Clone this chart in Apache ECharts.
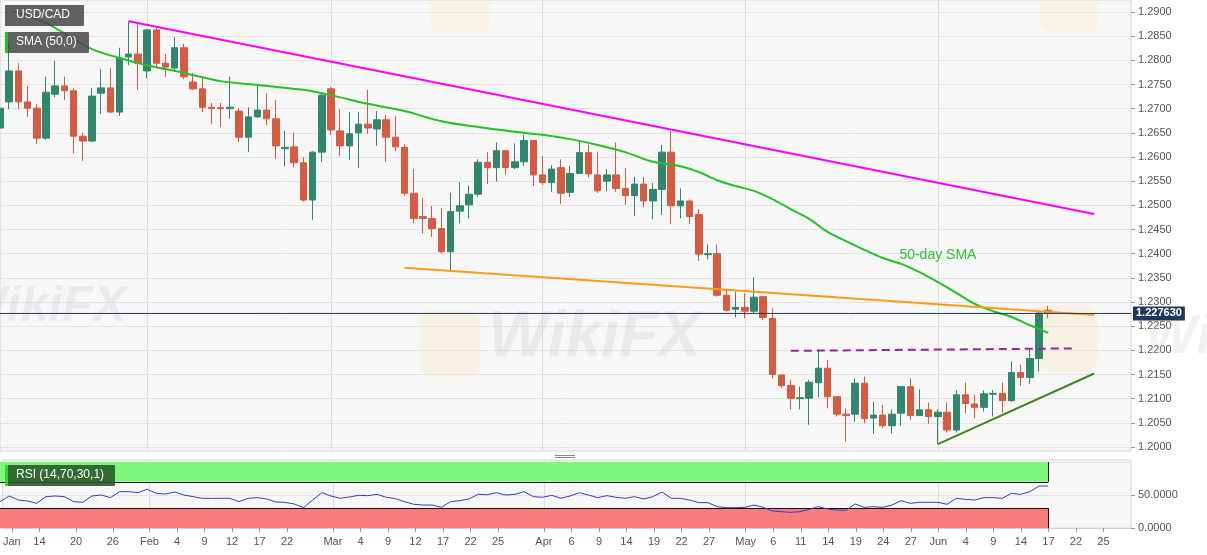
<!DOCTYPE html>
<html><head><meta charset="utf-8">
<script src="https://cdn.jsdelivr.net/npm/echarts@6/dist/echarts.min.js"></script>
<style>html,body{margin:0;padding:0;background:#fff}#c{width:1207px;height:555px}</style>
</head><body><div id="c"></div><script>
// ---- categories (trading days) ----
const dates = [
'2021-01-08','2021-01-11','2021-01-12','2021-01-13','2021-01-14','2021-01-15','2021-01-18','2021-01-19','2021-01-20','2021-01-21','2021-01-22','2021-01-25','2021-01-26','2021-01-27','2021-01-28','2021-01-29',
'2021-02-01','2021-02-02','2021-02-03','2021-02-04','2021-02-05','2021-02-08','2021-02-09','2021-02-10','2021-02-11','2021-02-12','2021-02-15','2021-02-16','2021-02-17','2021-02-18','2021-02-19','2021-02-22','2021-02-23','2021-02-24','2021-02-25','2021-02-26',
'2021-03-01','2021-03-02','2021-03-03','2021-03-04','2021-03-05','2021-03-08','2021-03-09','2021-03-10','2021-03-11','2021-03-12','2021-03-15','2021-03-16','2021-03-17','2021-03-18','2021-03-19','2021-03-22','2021-03-23','2021-03-24','2021-03-25','2021-03-26','2021-03-29','2021-03-30','2021-03-31',
'2021-04-01','2021-04-02','2021-04-05','2021-04-06','2021-04-07','2021-04-08','2021-04-09','2021-04-12','2021-04-13','2021-04-14','2021-04-15','2021-04-16','2021-04-19','2021-04-20','2021-04-21','2021-04-22','2021-04-23','2021-04-26','2021-04-27','2021-04-28','2021-04-29','2021-04-30',
'2021-05-03','2021-05-04','2021-05-05','2021-05-06','2021-05-07','2021-05-10','2021-05-11','2021-05-12','2021-05-13','2021-05-14','2021-05-17','2021-05-18','2021-05-19','2021-05-20','2021-05-21','2021-05-24','2021-05-25','2021-05-26','2021-05-27','2021-05-28','2021-05-31',
'2021-06-01','2021-06-02','2021-06-03','2021-06-04','2021-06-07','2021-06-08','2021-06-09','2021-06-10','2021-06-11','2021-06-14','2021-06-15','2021-06-16','2021-06-17','2021-06-18','2021-06-21','2021-06-22','2021-06-23','2021-06-24','2021-06-25','2021-06-28','2021-06-29','2021-06-30'
];

// ---- USD/CAD daily candles: [open, close, low, high] ----
const candles = [
[1.2660,1.2701,1.2650,1.2712],[1.2714,1.2778,1.2699,1.2836],[1.2778,1.2714,1.2699,1.2794],[1.2714,1.2701,1.2683,1.2747],[1.2701,1.2639,1.2627,1.2710],
[1.2639,1.2734,1.2635,1.2766],[1.2730,1.2747,1.2724,1.2799],[1.2747,1.2737,1.2718,1.2766],[1.2737,1.2643,1.2608,1.2743],[1.2643,1.2633,1.2592,1.2650],
[1.2633,1.2726,1.2631,1.2743],[1.2732,1.2743,1.2689,1.2782],[1.2743,1.2693,1.2691,1.2784],[1.2693,1.2805,1.2685,1.2826],[1.2807,1.2813,1.2790,1.2881],
[1.2813,1.2794,1.2739,1.2877],[1.2778,1.2863,1.2763,1.2865],[1.2863,1.2794,1.2784,1.2867],[1.2794,1.2786,1.2766,1.2813],[1.2784,1.2826,1.2776,1.2848],
[1.2826,1.2766,1.2761,1.2834],[1.2755,1.2741,1.2739,1.2774],[1.2741,1.2703,1.2693,1.2763],[1.2703,1.2700,1.2668,1.2712],[1.2702,1.2700,1.2662,1.2712],
[1.2700,1.2703,1.2679,1.2766],[1.2695,1.2641,1.2631,1.2701],[1.2641,1.2683,1.2610,1.2703],[1.2683,1.2697,1.2681,1.2749],[1.2697,1.2679,1.2666,1.2732],
[1.2679,1.2623,1.2596,1.2718],[1.2617,1.2620,1.2581,1.2654],[1.2621,1.2588,1.2579,1.2650],[1.2588,1.2511,1.2508,1.2600],[1.2511,1.2610,1.2470,1.2612],
[1.2610,1.2728,1.2590,1.2732],[1.2741,1.2656,1.2646,1.2745],[1.2654,1.2623,1.2602,1.2699],[1.2623,1.2648,1.2594,1.2693],[1.2650,1.2668,1.2577,1.2693],
[1.2668,1.2660,1.2648,1.2739],[1.2658,1.2677,1.2623,1.2695],[1.2677,1.2641,1.2590,1.2687],[1.2641,1.2621,1.2612,1.2685],[1.2620,1.2525,1.2520,1.2626],
[1.2525,1.2473,1.2463,1.2575],[1.2477,1.2473,1.2442,1.2515],[1.2473,1.2452,1.2435,1.2499],[1.2452,1.2404,1.2400,1.2494],[1.2404,1.2487,1.2365,1.2526],
[1.2488,1.2499,1.2463,1.2548],[1.2501,1.2523,1.2473,1.2541],[1.2523,1.2589,1.2518,1.2595],[1.2589,1.2578,1.2544,1.2610],[1.2578,1.2613,1.2549,1.2630],
[1.2613,1.2578,1.2563,1.2614],[1.2578,1.2590,1.2575,1.2628],[1.2590,1.2634,1.2581,1.2646],[1.2634,1.2563,1.2540,1.2635],[1.2563,1.2547,1.2542,1.2602],
[1.2547,1.2575,1.2528,1.2583],[1.2578,1.2525,1.2503,1.2595],[1.2527,1.2566,1.2517,1.2582],[1.2566,1.2609,1.2565,1.2634],[1.2609,1.2565,1.2558,1.2625],
[1.2563,1.2530,1.2526,1.2611],[1.2550,1.2563,1.2530,1.2575],[1.2563,1.2535,1.2528,1.2630],[1.2535,1.2520,1.2501,1.2577],[1.2520,1.2544,1.2478,1.2559],
[1.2544,1.2509,1.2496,1.2559],[1.2509,1.2533,1.2471,1.2546],[1.2533,1.2610,1.2480,1.2625],[1.2610,1.2499,1.2461,1.2654],[1.2499,1.2509,1.2473,1.2535],
[1.2509,1.2477,1.2461,1.2512],[1.2481,1.2399,1.2385,1.2492],[1.2398,1.2400,1.2388,1.2419],[1.2400,1.2314,1.2311,1.2419],[1.2314,1.2283,1.2280,1.2325],
[1.2285,1.2289,1.2268,1.2321],[1.2289,1.2281,1.2266,1.2318],[1.2281,1.2310,1.2277,1.2351],[1.2311,1.2268,1.2263,1.2312],[1.2266,1.2150,1.2142,1.2287],
[1.2149,1.2127,1.2122,1.2150],[1.2127,1.2101,1.2078,1.2139],[1.2100,1.2102,1.2078,1.2125],[1.2101,1.2134,1.2046,1.2139],[1.2133,1.2163,1.2103,1.2202],
[1.2163,1.2104,1.2080,1.2180],[1.2104,1.2068,1.2063,1.2105],[1.2068,1.2065,1.2011,1.2080],[1.2068,1.2132,1.2052,1.2142],[1.2132,1.2059,1.2049,1.2146],
[1.2060,1.2066,1.2027,1.2094],[1.2066,1.2044,1.2039,1.2087],[1.2044,1.2068,1.2028,1.2078],[1.2070,1.2125,1.2044,1.2126],[1.2125,1.2065,1.2056,1.2142],
[1.2065,1.2077,1.2064,1.2119],[1.2077,1.2063,1.2048,1.2092],[1.2063,1.2072,1.2006,1.2078],[1.2072,1.2035,1.2030,1.2092],[1.2035,1.2108,1.2030,1.2118],
[1.2108,1.2090,1.2070,1.2133],[1.2089,1.2082,1.2059,1.2108],[1.2082,1.2110,1.2073,1.2117],[1.2109,1.2111,1.2063,1.2118],[1.2111,1.2096,1.2071,1.2133],
[1.2096,1.2154,1.2093,1.2177],[1.2154,1.2144,1.2127,1.2170],[1.2144,1.2183,1.2130,1.2202],[1.2183,1.2277,1.2156,1.2280],[1.2283,1.22763,1.2266,1.2292]
];

// ---- RSI(14) values ----
const rsiValues = [
39.8,48.5,42.4,40.9,37.4,47.5,48.5,47.5,39.9,38.9,48.5,50.0,46.0,55.0,55.0,53.5,58.6,52.5,51.5,54.5,
50.0,47.5,45.0,44.9,45.0,45.0,39.9,45.0,46.0,44.0,39.4,38.9,36.4,30.8,42.4,53.5,48.5,45.0,47.0,49.5,
49.0,51.0,46.5,44.4,39.9,35.9,34.8,34.8,31.3,39.9,41.4,43.9,51.0,50.5,53.5,50.0,51.0,55.0,47.5,46.5,
49.5,45.0,48.5,53.5,50.0,46.0,49.0,46.5,45.0,47.5,44.0,47.5,54.5,45.0,45.0,42.4,38.4,38.4,32.3,30.8,
30.8,31.3,34.8,31.3,25.8,24.7,23.7,24.7,28.3,32.3,28.8,27.3,26.8,36.4,31.3,32.3,31.3,34.8,41.4,37.4,
38.9,38.9,38.9,35.9,45.0,43.4,42.4,46.0,46.0,45.0,52.5,51.0,55.0,63.6,63.6
];

// ---- 50-day SMA ----
const smaPoints = [
['2021-01-08',1.2910],['2021-01-15',1.2877],['2021-01-22',1.2823],['2021-01-27',1.2805],['2021-02-01',1.2790],
['2021-02-05',1.2774],['2021-02-11',1.2757],['2021-02-17',1.2749],['2021-02-24',1.2739],['2021-03-01',1.2728],
['2021-03-05',1.2710],['2021-03-11',1.2695],['2021-03-17',1.2674],['2021-03-23',1.2662],['2021-03-29',1.2652],
['2021-04-01',1.2646],['2021-04-06',1.2637],['2021-04-09',1.2625],['2021-04-14',1.2610],['2021-04-19',1.2590],
['2021-04-22',1.2581],['2021-04-26',1.2569],['2021-04-28',1.2552],['2021-04-30',1.2540],['2021-05-04',1.2530],
['2021-05-06',1.2513],['2021-05-10',1.2492],['2021-05-12',1.2472],['2021-05-14',1.2445],['2021-05-18',1.2426],
['2021-05-20',1.2408],['2021-05-24',1.2391],['2021-05-26',1.2379],['2021-05-28',1.2362],['2021-06-01',1.2341],
['2021-06-03',1.2319],['2021-06-07',1.2296],['2021-06-09',1.2281],['2021-06-11',1.2269],['2021-06-15',1.2252],
['2021-06-17',1.2236]
];

// ---- drawn trend lines ----
const resistanceLine = [['2021-01-28',1.2881],['2021-06-24',1.2482]];
const fallingSupport = [['2021-03-11',1.2371],['2021-06-24',1.2273]];
const horizontalLevel = [['2021-05-10',1.2199],['2021-06-22',1.2204]];
const risingSupport = [['2021-06-01',1.2006],['2021-06-24',1.2152]];
const smaLabelAt = ['2021-06-01',1.2397];
const lastPrice = 1.227630;

// ---- axis ticks ----
const tickDates = ['2021-01-11','2021-01-14','2021-01-20','2021-01-26','2021-02-01','2021-02-04','2021-02-09','2021-02-12','2021-02-17','2021-02-22',
'2021-03-01','2021-03-04','2021-03-09','2021-03-12','2021-03-17','2021-03-22','2021-03-25','2021-04-01','2021-04-06','2021-04-09','2021-04-14','2021-04-19','2021-04-22','2021-04-27',
'2021-05-03','2021-05-06','2021-05-11','2021-05-14','2021-05-19','2021-05-24','2021-05-27','2021-06-01','2021-06-04','2021-06-09','2021-06-14','2021-06-17','2021-06-22','2021-06-25'];
const tickTexts = ['Jan','14','20','26','Feb','4','9','12','17','22',
'Mar','4','9','12','17','22','25','Apr','6','9','14','19','22','27',
'May','6','11','14','19','24','27','Jun','4','9','14','17','22','25'];
const monthStarts = ['2021-02-01','2021-03-01','2021-04-01','2021-05-03','2021-06-01'];
const priceMin = 1.20, priceMax = 1.29, priceStep = 0.005;
const rsiMin = 0, rsiMax = 100, rsiStep = 50;
const rsiUpper = 70, rsiLower = 30;

const tickMap = {};
tickDates.forEach((d, i) => { tickMap[d] = tickTexts[i]; });
const monthSet = new Set(monthStarts);
const lastDate = dates[candles.length - 1];
const FONT = 'Arial';

const chart = echarts.init(document.getElementById('c'), null, {renderer: 'canvas'});
const gridLine = '#e3e3e3';
const upColor = '#30876e', downColor = '#d75a41';

const trend = (data, color, type) => ({
  type: 'line', xAxisIndex: 1, yAxisIndex: 1, data, symbol: 'none', silent: true,
  lineStyle: {color, width: 2, type: type || 'solid'}, z: 4
});

chart.setOption({
  animation: false,
  backgroundColor: '#ffffff',
  grid: [
    {left: 0, top: 0, width: 1131, height: 451, show: true, backgroundColor: '#f7f7f7', borderColor: '#d6d6d6', borderWidth: 1, z: 0},
    {left: 0, top: 12, width: 1131, height: 435},
    {left: 0, top: 460, width: 1131, height: 68, show: true, backgroundColor: '#f7f7f7', borderColor: '#d6d6d6', borderWidth: 1, z: 0},
    {left: 0, top: 462, width: 1131, height: 66}
  ],
  xAxis: [
    {type: 'category', gridIndex: 0, data: dates, boundaryGap: false,
      axisLine: {show: false}, axisTick: {show: false}, axisLabel: {show: false},
      splitLine: {show: true, interval: (i, v) => monthSet.has(v), lineStyle: {color: '#dedede'}}},
    {type: 'category', gridIndex: 1, data: dates, boundaryGap: false, show: false},
    {type: 'category', gridIndex: 2, data: dates, boundaryGap: false, position: 'bottom',
      axisLine: {show: true, lineStyle: {color: '#cfcfcf'}},
      axisTick: {show: true, length: 4, interval: (i, v) => v in tickMap, lineStyle: {color: '#999'}},
      axisLabel: {show: true, interval: (i, v) => v in tickMap, formatter: v => tickMap[v] || '',
        color: '#555', fontSize: 11, fontFamily: FONT, margin: 8},
      splitLine: {show: true, interval: (i, v) => monthSet.has(v), lineStyle: {color: '#dedede'}}},
    {type: 'category', gridIndex: 3, data: dates, boundaryGap: false, show: false}
  ],
  yAxis: [
    {type: 'value', gridIndex: 0, min: 0, max: 1, show: false, splitLine: {show: false}},
    {type: 'value', gridIndex: 1, position: 'right', min: priceMin, max: priceMax, interval: priceStep,
      axisLine: {show: false}, axisTick: {show: true, length: 4, lineStyle: {color: '#999'}},
      axisLabel: {formatter: v => v.toFixed(4), color: '#555', fontSize: 11, fontFamily: FONT, margin: 7},
      splitLine: {show: true, lineStyle: {color: gridLine}}},
    {type: 'value', gridIndex: 2, min: 0, max: 1, show: false, splitLine: {show: false}},
    {type: 'value', gridIndex: 3, position: 'right', min: rsiMin, max: rsiMax, interval: rsiStep,
      axisLine: {show: false}, axisTick: {show: true, length: 4, lineStyle: {color: '#999'}},
      axisLabel: {formatter: v => v.toFixed(4), showMaxLabel: false, color: '#555', fontSize: 11, fontFamily: FONT, margin: 7},
      splitLine: {show: true, lineStyle: {color: gridLine}}}
  ],
  series: [
    {type: 'candlestick', xAxisIndex: 1, yAxisIndex: 1, data: candles, barWidth: 7, z: 3,
      itemStyle: {color: upColor, color0: downColor, borderColor: upColor, borderColor0: downColor, borderWidth: 1}},
    {type: 'line', xAxisIndex: 1, yAxisIndex: 1, symbol: 'none', silent: true, z: 6,
      data: [[dates[0], lastPrice], [dates[dates.length - 1], lastPrice]],
      lineStyle: {color: '#1d3a5c', width: 1},
      endLabel: {show: true, distance: 2, formatter: () => lastPrice.toFixed(6),
        backgroundColor: '#1d3a5c', color: '#fff', fontWeight: 'bold', fontSize: 11, fontFamily: FONT, padding: [2, 3, 1, 3]}},
    {type: 'line', xAxisIndex: 1, yAxisIndex: 1, data: smaPoints, symbol: 'none', smooth: 0.3, silent: true, z: 4,
      lineStyle: {color: '#22c322', width: 2},
      markPoint: {symbol: 'circle', symbolSize: 0, silent: true,
        data: [{coord: smaLabelAt}],
        label: {show: true, position: 'inside', formatter: '50-day SMA', color: '#2cc42c', fontSize: 14, fontFamily: FONT}}},
    trend(resistanceLine, '#ff00ff'),
    trend(fallingSupport, '#ff9a1a'),
    trend(horizontalLevel, '#a0209e', [8, 5]),
    trend(risingSupport, '#3f8a1e'),
    {type: 'line', xAxisIndex: 3, yAxisIndex: 3, data: rsiValues, symbol: 'none', silent: true, z: 5,
      lineStyle: {color: '#2f3fc6', width: 1},
      markArea: {silent: true,
        data: [
          [{xAxis: dates[0], yAxis: rsiUpper, itemStyle: {color: '#7cf87c', opacity: 1}}, {xAxis: lastDate, yAxis: rsiMax}],
          [{xAxis: dates[0], yAxis: rsiMin, itemStyle: {color: '#f87c7c', opacity: 1}}, {xAxis: lastDate, yAxis: rsiLower}]
        ]},
      markLine: {silent: true, symbol: 'none', label: {show: false},
        lineStyle: {color: '#111', width: 1, type: 'solid'},
        data: [
          [{coord: [dates[0], rsiUpper]}, {coord: [lastDate, rsiUpper]}],
          [{coord: [dates[0], rsiLower]}, {coord: [lastDate, rsiLower]}],
          [{coord: [lastDate, rsiUpper]}, {coord: [lastDate, rsiMax]}],
          [{coord: [lastDate, rsiMin]}, {coord: [lastDate, rsiLower]}]
        ]}}
  ],
  graphic: [
    // faint watermarks
    {type: 'rect', z: 1, silent: true, shape: {x: 420, y: 310, width: 60, height: 66, r: 10}, style: {fill: 'rgba(250,225,150,0.2)'}},
    {type: 'text', z: 1, silent: true, left: 488, top: 306, style: {text: 'WikiFX', font: 'italic bold 64px Arial', fill: 'rgba(190,190,190,0.22)'}},
    {type: 'text', z: 1, silent: true, left: -40, top: 282, style: {text: 'WikiFX', font: 'italic bold 50px Arial', fill: 'rgba(190,190,190,0.22)'}},
    {type: 'rect', z: 1, silent: true, shape: {x: 1035, y: 305, width: 62, height: 66, r: 10}, style: {fill: 'rgba(250,225,150,0.2)'}},
    {type: 'text', z: 1, silent: true, left: 1145, top: 310, style: {text: 'Wi', font: 'italic bold 55px Arial', fill: 'rgba(190,190,190,0.2)'}},
    {type: 'rect', z: 1, silent: true, shape: {x: 430, y: -25, width: 60, height: 58, r: 10}, style: {fill: 'rgba(250,225,150,0.18)'}},
    {type: 'rect', z: 1, silent: true, shape: {x: 1040, y: -25, width: 58, height: 58, r: 10}, style: {fill: 'rgba(250,225,150,0.18)'}},
    // panel splitter handle
    {type: 'line', z: 10, silent: true, shape: {x1: 555, y1: 455.5, x2: 575, y2: 455.5}, style: {stroke: '#888', lineWidth: 1}},
    {type: 'line', z: 10, silent: true, shape: {x1: 555, y1: 457.5, x2: 575, y2: 457.5}, style: {stroke: '#888', lineWidth: 1}},
    // legend boxes
    {type: 'rect', z: 100, silent: true, shape: {x: 5, y: 5, width: 79, height: 21, r: 1}, style: {fill: 'rgba(70,70,70,0.85)'}},
    {type: 'text', z: 101, silent: true, left: 16, top: 9, style: {text: 'USD/CAD', font: '12px Arial', fill: '#fff'}},
    {type: 'rect', z: 100, silent: true, shape: {x: 5, y: 32, width: 84, height: 21, r: 1}, style: {fill: 'rgba(70,70,70,0.85)'}},
    {type: 'rect', z: 101, silent: true, shape: {x: 5, y: 32, width: 3, height: 21}, style: {fill: '#22c322'}},
    {type: 'text', z: 101, silent: true, left: 16, top: 36, style: {text: 'SMA (50,0)', font: '12px Arial', fill: '#fff'}},
    {type: 'rect', z: 100, silent: true, shape: {x: 5, y: 465, width: 110, height: 21, r: 1}, style: {fill: 'rgba(40,85,40,0.88)'}},
    {type: 'rect', z: 101, silent: true, shape: {x: 5, y: 465, width: 3, height: 21}, style: {fill: '#35d035'}},
    {type: 'text', z: 101, silent: true, left: 16, top: 469, style: {text: 'RSI (14,70,30,1)', font: '12px Arial', fill: '#fff'}}
  ]
});
</script></body></html>
